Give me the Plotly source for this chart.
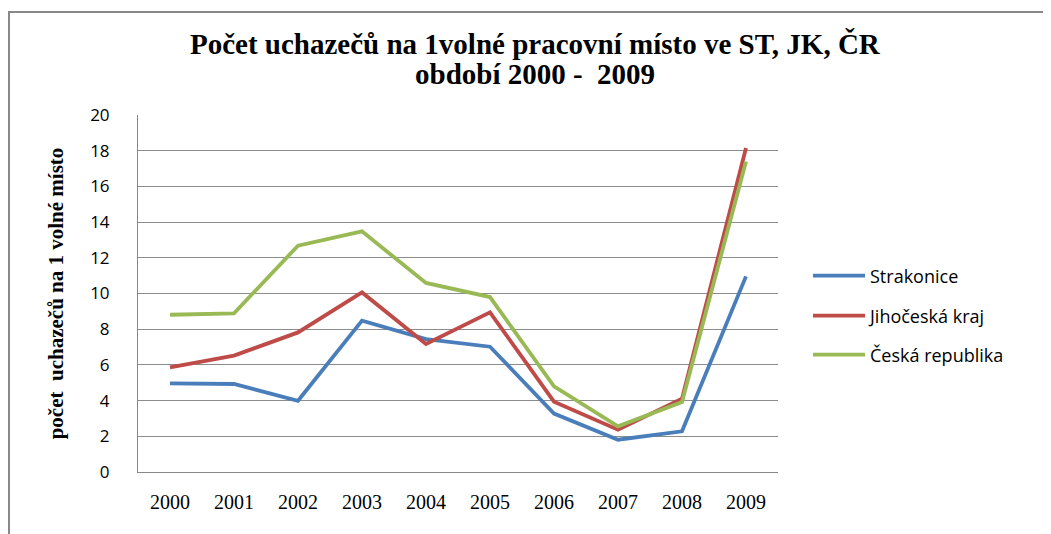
import plotly.graph_objects as go

years = ["2000", "2001", "2002", "2003", "2004", "2005", "2006", "2007", "2008", "2009"]
strakonice = [4.96, 4.93, 3.99, 8.48, 7.45, 7.02, 3.27, 1.81, 2.28, 10.96]
jihocesky = [5.86, 6.52, 7.82, 10.06, 7.17, 8.94, 3.94, 2.37, 4.11, 18.15]
cr = [8.81, 8.89, 12.68, 13.48, 10.59, 9.80, 4.80, 2.56, 3.92, 17.40]

names = ["Strakonice", "Jihočeská kraj", "Česká republika"]
colors = ["#4A7EBB", "#BE4B48", "#98B954"]
legends = ["legend", "legend2", "legend3"]

# page offset of 8px (body margin) -> plot area page coords x 138..778, y 115..472
def py(p):
    return (472 - p) / 357

def px(p):
    return (p - 138) / 640

fig = go.Figure()
for name, vals, col, lg in zip(names, [strakonice, jihocesky, cr], colors, legends):
    fig.add_trace(go.Scatter(x=years, y=vals, mode="lines", name=name, legend=lg,
                             showlegend=True, line=dict(color=col, width=3.8)))

legfont = dict(family="Open Sans", size=18, color="black")
legend_common = dict(x=px(808), xanchor="left", yanchor="middle", font=legfont,
                     itemwidth=52, bgcolor="rgba(0,0,0,0)")

fig.update_layout(
    width=1043, height=526,
    showlegend=True,
    margin=dict(l=130, r=273, t=107, b=62),
    paper_bgcolor="white", plot_bgcolor="white",
    xaxis=dict(type="category", range=[-0.5, 9.5], showgrid=False,
               showline=True, linecolor="#888888", linewidth=1,
               ticks="", ticklabelstandoff=12,
               tickfont=dict(family="Liberation Serif", size=20, color="black")),
    yaxis=dict(range=[0, 20], dtick=2, showgrid=True, gridcolor="#8c8c8c", gridwidth=1,
               showline=True, linecolor="#888888", linewidth=1, zeroline=False,
               ticks="", ticklabelstandoff=24,
               tickfont=dict(family="Open Sans", size=17, color="black"),
               title=dict(text="<b>počet  uchazečů na 1 volné místo</b>", standoff=20,
                          font=dict(family="Liberation Serif", size=21, color="black"))),
    legend=dict(y=py(276), **legend_common),
    legend2=dict(y=py(316), **legend_common),
    legend3=dict(y=py(355), **legend_common),
    annotations=[
        dict(text="<b>Počet uchazečů na 1volné pracovní místo ve ST, JK, ČR</b>",
             xref="paper", yref="paper", x=px(535), y=py(44), xanchor="center", yanchor="middle",
             showarrow=False, font=dict(family="Liberation Serif", size=29, color="black")),
        dict(text="<b>období 2000 -  2009</b>",
             xref="paper", yref="paper", x=px(535), y=py(74), xanchor="center", yanchor="middle",
             showarrow=False, font=dict(family="Liberation Serif", size=29, color="black")),
    ],
    shapes=[dict(type="rect", xref="paper", yref="paper",
                 x0=px(9), x1=px(1075),
                 y0=py(545), y1=py(12),
                 line=dict(color="#888888", width=2), fillcolor="rgba(0,0,0,0)", layer="below")],
)

fig.write_html("out.html")
